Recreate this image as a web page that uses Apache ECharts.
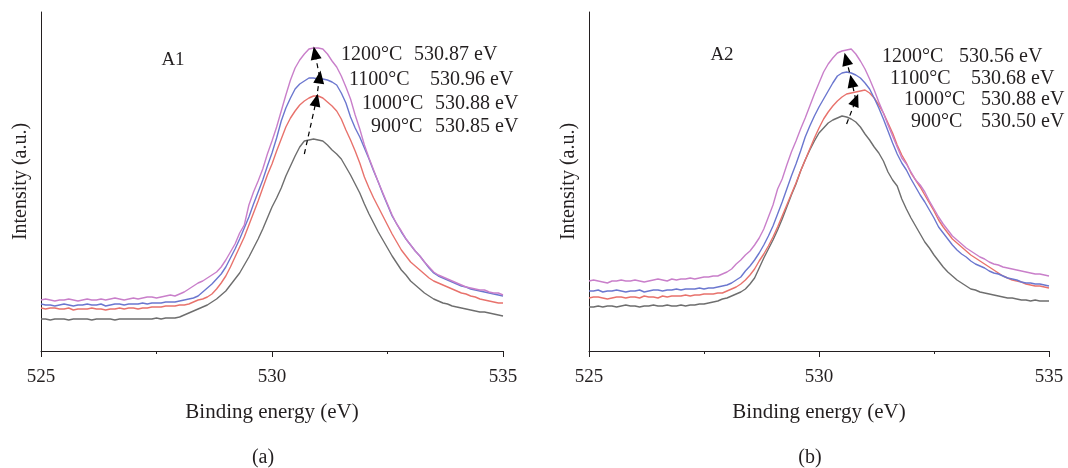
<!DOCTYPE html>
<html>
<head>
<meta charset="utf-8">
<script src="https://cdn.jsdelivr.net/npm/echarts@6/dist/echarts.min.js"></script>
<style>
  html, body { margin: 0; padding: 0; background: #ffffff; }
  #chart { width: 1068px; height: 468px; }
</style>
</head>
<body>
<div id="chart"></div>
<script>
// O 1s spectra, binding energy sampled from 525.0 to 535.0 eV in 0.1 eV steps
const energyStart = 525.0;
const energyStep = 0.1;

// Sample A1, intensity (a.u.)
const a1_900 = [
  32,32,31,32,32,32,31,32,32,32,
  32,31,32,32,32,32,31,32,32,32,
  32,32,32,32,32,33,32,33,33,33,
  34,36,38,40,42,44,46,49,52,56,
  60,66,72,78,86,94,103,112,122,133,
  144,153,163,175,185,195,204,210,211,212,
  211,210,206,201,197,192,184,176,167,158,
  147,137,128,119,111,103,95,88,81,76,
  70,66,62,58,55,52,50,48,47,45,
  44,43,42,41,40,39,39,38,37,36,
  35
];
const a1_1000 = [
  43,42,43,43,42,42,43,41,42,42,
  42,43,42,42,41,42,42,43,42,43,
  43,42,43,43,44,44,44,45,45,45,
  46,46,47,49,51,52,54,57,62,68,
  75,84,94,104,114,126,138,150,163,176,
  187,200,212,224,233,240,246,250,253,255,
  255,253,249,245,240,232,221,211,200,188,
  174,163,153,144,135,126,117,109,101,95,
  89,85,81,77,73,70,68,66,64,62,
  60,58,57,55,54,52,51,50,49,48,
  48
];
const a1_1100 = [
  47,46,46,45,46,47,46,45,46,46,
  47,46,46,47,45,46,47,47,46,47,
  47,47,48,47,48,48,48,49,49,49,
  50,51,52,53,55,59,63,67,72,77,
  84,93,102,112,123,134,147,159,171,185,
  198,213,230,243,253,262,267,270,273,273,
  272,272,271,269,266,258,248,234,223,214,
  203,192,180,169,157,146,135,127,119,112,
  106,100,95,89,83,78,75,73,71,69,
  67,65,64,62,61,60,59,58,57,56,
  55
];
const a1_1200 = [
  51,52,51,50,51,51,52,51,50,51,
  52,51,51,52,51,52,53,52,51,52,
  53,52,53,54,54,53,54,55,56,55,
  57,59,62,65,68,70,73,76,79,84,
  91,99,107,118,126,146,159,170,182,197,
  210,224,240,256,271,283,291,297,302,303,
  303,302,297,290,284,275,264,252,236,222,
  206,193,181,169,158,147,136,127,120,112,
  106,100,95,89,84,79,76,74,72,70,
  68,66,64,63,62,61,61,59,58,58,
  56
];

// Sample A2, intensity (a.u.)
const a2_900 = [
  44,44,45,44,45,45,44,45,46,45,
  45,44,45,45,46,45,45,46,45,45,
  46,45,46,46,47,47,48,49,50,52,
  53,55,57,59,62,67,73,83,93,102,
  111,121,132,144,156,167,180,191,201,210,
  218,223,228,231,233,235,234,232,229,224,
  217,211,204,198,190,179,171,165,152,142,
  133,125,117,109,103,96,90,84,79,75,
  71,68,65,62,61,59,58,57,56,55,
  54,53,53,52,51,51,50,51,50,50,
  50
];
const a2_1000 = [
  53,54,54,53,52,53,54,54,53,54,
  54,53,55,54,54,53,55,54,55,55,
  55,56,55,56,56,57,57,57,58,58,
  60,62,64,67,71,76,82,90,97,105,
  114,124,135,146,157,168,180,191,202,213,
  223,232,239,245,250,254,257,258,259,260,
  261,258,253,246,238,228,218,206,196,188,
  178,171,164,156,148,140,131,124,118,112,
  108,104,100,96,93,90,87,84,81,78,
  75,73,71,70,69,67,66,65,65,64,
  63
];
const a2_1100 = [
  60,60,61,59,60,60,61,60,59,60,
  60,61,59,60,61,61,60,61,61,62,
  61,62,62,62,63,62,63,63,64,65,
  66,68,71,74,80,85,91,98,106,115,
  125,137,149,162,175,187,200,214,225,235,
  244,252,260,268,275,278,279,278,276,273,
  268,262,253,243,232,220,208,197,188,181,
  172,164,156,149,141,133,124,118,112,106,
  101,97,94,90,87,85,83,80,78,77,
  75,73,72,71,69,68,68,67,67,66,
  65
];
const a2_1200 = [
  70,71,70,69,68,70,70,71,70,70,
  71,70,69,70,71,72,71,70,72,71,
  72,72,73,72,73,74,74,75,75,77,
  79,82,87,91,96,100,106,113,122,134,
  146,162,172,186,199,210,222,233,245,257,
  268,279,287,293,298,300,301,302,297,290,
  282,272,261,249,238,226,215,204,193,187,
  179,171,166,159,150,142,134,127,121,115,
  111,107,103,100,97,94,92,89,87,86,
  84,83,82,81,80,79,78,77,77,76,
  75
];

// Peak labels, listed top to bottom (1200 °C first)
const temperatures = ['1200°C', '1100°C', '1000°C', '900°C'];
const a1PeakLabels = ['530.87 eV', '530.96 eV', '530.88 eV', '530.85 eV'];
const a2PeakLabels = ['530.56 eV', '530.68 eV', '530.88 eV', '530.50 eV'];

// Peak-shift arrow chain [energy, intensity]: 900 -> 1000 -> 1100 -> 1200 °C
const a1ShiftPath = [[530.70, 197], [530.96, 251], [531.03, 274], [530.93, 298]];
const a2ShiftPath = [[530.60, 227], [530.80, 251], [530.71, 270], [530.59, 292]];

const panelNames = ['A1', 'A2'];
const panelCaptions = ['(a)', '(b)'];

const colors = { t900: '#6e6e6e', t1000: '#e8726c', t1100: '#6b77cf', t1200: '#c97fca' };
const ink = '#231f20';
const serif = '"Liberation Serif", "DejaVu Serif", serif';

function pairs(values) {
  return values.map((v, i) => [+(energyStart + i * energyStep).toFixed(1), v]);
}

function arrowSegments(path) {
  const segs = [];
  for (let i = 0; i < path.length - 1; i++) {
    segs.push([{ coord: path[i] }, { coord: path[i + 1] }]);
  }
  return segs;
}

function xAxisFor(gridIndex) {
  return {
    type: 'value', gridIndex: gridIndex, min: 525, max: 535, interval: 5,
    name: 'Binding energy (eV)', nameLocation: 'middle', nameGap: 51,
    nameTextStyle: { fontFamily: serif, fontSize: 21, color: ink },
    axisLine: { show: true, lineStyle: { color: ink, width: 1 } },
    axisTick: { show: true, inside: false, length: 6, lineStyle: { color: ink } },
    minorTick: { show: true, splitNumber: 2, length: 3, lineStyle: { color: ink } },
    axisLabel: { fontFamily: serif, fontSize: 19, color: ink, margin: 17 },
    splitLine: { show: false }, minorSplitLine: { show: false }
  };
}

function yAxisFor(gridIndex) {
  return {
    type: 'value', gridIndex: gridIndex, min: 0, max: 339,
    name: 'Intensity (a.u.)', nameLocation: 'middle', nameRotate: 90, nameGap: 10,
    nameTextStyle: { fontFamily: serif, fontSize: 20, color: ink },
    axisLine: { show: true, lineStyle: { color: ink, width: 1 } },
    axisTick: { show: false }, axisLabel: { show: false }, splitLine: { show: false }
  };
}

function spectrum(values, color, gridIndex, extra) {
  return Object.assign({
    type: 'line', xAxisIndex: gridIndex, yAxisIndex: gridIndex,
    data: pairs(values), showSymbol: false, symbol: 'none', smooth: false,
    lineStyle: { color: color, width: 1.4 }, itemStyle: { color: color },
    emphasis: { disabled: true }, silent: true, z: 2
  }, extra || {});
}

function shiftArrows(path) {
  return {
    silent: true, animation: false,
    symbol: ['none', 'triangle'], symbolSize: [11, 13],
    label: { show: false },
    lineStyle: { color: '#000000', type: [5, 4], width: 1.2 },
    itemStyle: { color: '#000000' },
    emphasis: { disabled: true },
    data: arrowSegments(path)
  };
}

// Text layout for each panel
const panelLayout = [
  { nameX: 173, nameY: 60, captionX: 263, captionY: 458,
    tempX: [341, 349, 362, 371], valueX: [414, 430, 435, 435], rowY: [55, 80, 104, 127] },
  { nameX: 722, nameY: 55, captionX: 810, captionY: 458,
    tempX: [882, 890, 904, 911], valueX: [959, 971, 981, 981], rowY: [57, 79, 100, 122] }
];
const peakLabels = [a1PeakLabels, a2PeakLabels];

function textEl(str, x, y, size, align) {
  return {
    type: 'text', silent: true,
    style: { text: str, x: x, y: y, fill: ink, font: size + 'px ' + serif,
             textAlign: align, textVerticalAlign: 'middle', verticalAlign: 'middle' }
  };
}

const graphics = [];
panelLayout.forEach((p, k) => {
  graphics.push(textEl(panelNames[k], p.nameX, p.nameY, 19, 'center'));
  graphics.push(textEl(panelCaptions[k], p.captionX, p.captionY, 20, 'center'));
  temperatures.forEach((t, i) => {
    graphics.push(textEl(t, p.tempX[i], p.rowY[i], 20, 'left'));
    graphics.push(textEl(peakLabels[k][i], p.valueX[i], p.rowY[i], 20, 'left'));
  });
});

const chart = echarts.init(document.getElementById('chart'), null, { renderer: 'canvas' });
chart.setOption({
  animation: false,
  backgroundColor: '#ffffff',
  grid: [
    { left: 41, top: 12, width: 462, height: 339 },
    { left: 589, top: 12, width: 460, height: 339 }
  ],
  xAxis: [xAxisFor(0), xAxisFor(1)],
  yAxis: [yAxisFor(0), yAxisFor(1)],
  series: [
    spectrum(a1_900, colors.t900, 0, { markLine: shiftArrows(a1ShiftPath) }),
    spectrum(a1_1000, colors.t1000, 0),
    spectrum(a1_1100, colors.t1100, 0),
    spectrum(a1_1200, colors.t1200, 0),
    spectrum(a2_900, colors.t900, 1, { markLine: shiftArrows(a2ShiftPath) }),
    spectrum(a2_1000, colors.t1000, 1),
    spectrum(a2_1100, colors.t1100, 1),
    spectrum(a2_1200, colors.t1200, 1)
  ],
  graphic: graphics
});
</script>
</body>
</html>
